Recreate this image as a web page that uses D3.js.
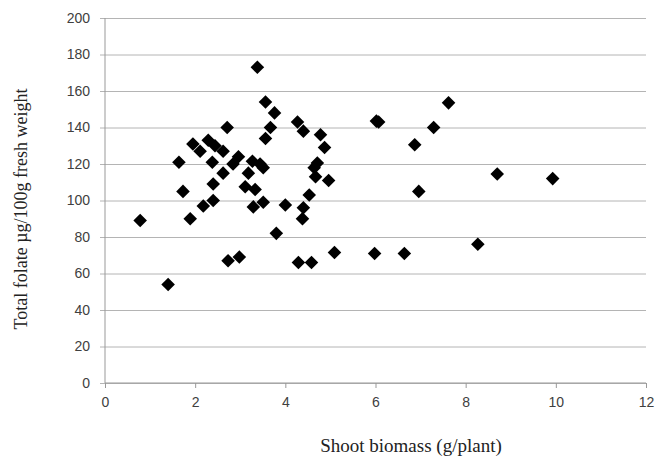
<!DOCTYPE html>
<html>
<head>
<meta charset="utf-8">
<script src="https://cdn.jsdelivr.net/npm/d3@7"></script>
<style>
  body { margin: 0; background: #fff; }
  svg { display: block; }
</style>
</head>
<body>
<svg id="chart" width="656" height="456"></svg>
<script>
// shoot biomass (g/plant) vs total folate (µg/100g fresh weight)
var biomass = [0.78, 1.40, 1.64, 1.73, 1.89, 1.95, 2.11, 2.18, 2.29, 2.38,
    2.40, 2.40, 2.44, 2.62, 2.62, 2.71, 2.73, 2.84, 2.96, 2.98,
    3.11, 3.18, 3.27, 3.29, 3.33, 3.38, 3.44, 3.51, 3.51, 3.56,
    3.56, 3.67, 3.76, 3.80, 4.00, 4.27, 4.29, 4.38, 4.40, 4.40,
    4.53, 4.58, 4.64, 4.67, 4.71, 4.78, 4.87, 4.96, 5.09, 5.98,
    6.02, 6.07, 6.64, 6.87, 6.96, 7.29, 7.62, 8.27, 8.70, 9.93];
var folate = [89, 54, 121, 105, 90, 131, 127, 97, 133, 121,
    109, 100, 130, 127, 115, 140, 67, 120, 124, 69,
    107.5, 115, 121.5, 96.5, 106, 173, 120, 118, 99, 154,
    134, 140, 148, 82, 97.5, 143, 66, 90, 96, 138,
    103, 66, 118, 113, 120.5, 136, 129, 111, 71.5, 71,
    143.5, 143, 71, 130.5, 105, 140, 153.5, 76, 114.5, 112];
var xTicks = [0, 2, 4, 6, 8, 10, 12];
var yTicks = [0, 20, 40, 60, 80, 100, 120, 140, 160, 180, 200];

var margin = {left: 105, right: 10, top: 18, bottom: 73};
var width = 646 - margin.left;
var height = 383 - margin.top;

var svg = d3.select('#chart');
var g = svg.append('g')
    .attr('transform', 'translate(' + margin.left + ',' + margin.top + ')');

var x = d3.scaleLinear().domain([0, 12]).range([0, width]);
var y = d3.scaleLinear().domain([0, 200]).range([height, 0]);

// gridlines + y axis
var yAxis = d3.axisLeft(y).tickValues(yTicks).tickSize(-width).tickPadding(15);
g.append('g')
    .attr('class', 'y axis')
    .call(yAxis)
    .call(a => a.select('.domain').remove())
    .call(a => a.selectAll('.tick line')
        .attr('x1', -5)
        .style('stroke', '#b4b4b4'))
    .call(a => a.selectAll('.tick text')
        .style('font-family', 'Liberation Sans, Arial, sans-serif')
        .style('font-size', '14px')
        .style('fill', '#404040'));

g.append('line')
    .attr('x1', 0).attr('x2', 0)
    .attr('y1', 0).attr('y2', height)
    .style('stroke', '#999');

// x axis
var xAxis = d3.axisBottom(x).tickValues(xTicks).tickSize(5).tickPadding(9);
g.append('g')
    .attr('class', 'x axis')
    .attr('transform', 'translate(0,' + height + ')')
    .call(xAxis)
    .call(a => a.select('.domain').attr('d', 'M0,0H' + width).style('stroke', '#999'))
    .call(a => a.selectAll('.tick line').style('stroke', '#999'))
    .call(a => a.selectAll('.tick text')
        .style('font-family', 'Liberation Sans, Arial, sans-serif')
        .style('font-size', '14px')
        .style('fill', '#404040'));

// points - squares turned 45 degrees
var pts = biomass.map((d, i) => ({x: d, y: folate[i]}));
var diamond = d3.symbol().type(d3.symbolSquare).size(92);
g.selectAll('.pt')
    .data(pts)
    .enter()
    .append('path')
    .attr('class', 'pt')
    .attr('d', diamond)
    .attr('transform', d => 'translate(' + x(d.x) + ',' + y(d.y) + ') rotate(45)')
    .style('fill', '#000');

// axis titles
svg.append('text')
    .attr('x', 411)
    .attr('y', 452)
    .attr('text-anchor', 'middle')
    .style('font-family', 'Liberation Serif, Times New Roman, serif')
    .style('font-size', '19px')
    .style('fill', '#222')
    .text('Shoot biomass (g/plant)');

svg.append('text')
    .attr('transform', 'translate(27,209) rotate(-90)')
    .attr('text-anchor', 'middle')
    .style('font-family', 'Liberation Serif, Times New Roman, serif')
    .style('font-size', '18px')
    .style('fill', '#222')
    .text('Total folate µg/100g fresh weight');
</script>
</body>
</html>
